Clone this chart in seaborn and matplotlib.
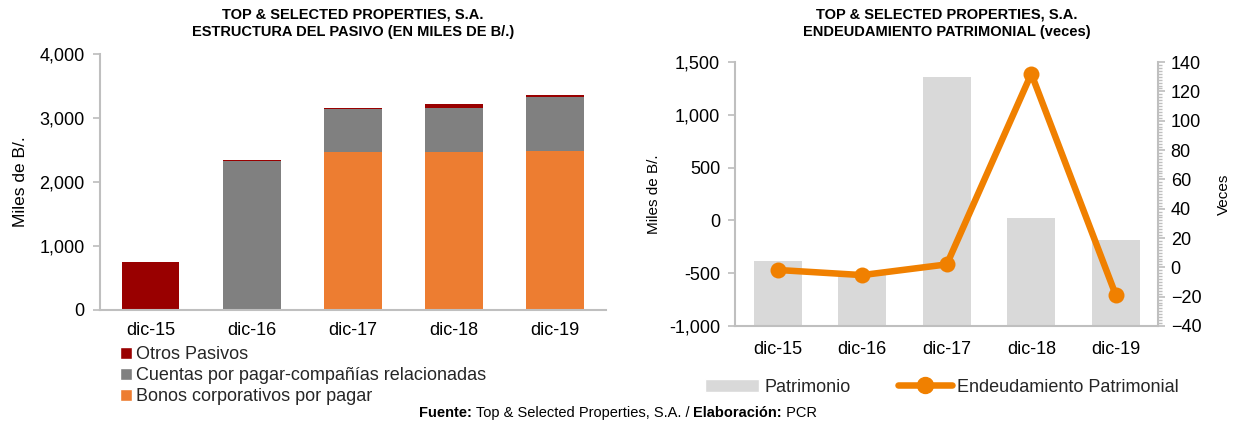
import matplotlib
matplotlib.use("Agg")
import matplotlib.pyplot as plt
import seaborn as sns
import numpy as np
import pandas as pd
from matplotlib.patches import Patch
from matplotlib.lines import Line2D
from matplotlib.ticker import FuncFormatter, MultipleLocator, AutoMinorLocator
from matplotlib.offsetbox import TextArea, HPacker, AnchoredOffsetbox

# ---------------- data ----------------
periods = ["dic-15", "dic-16", "dic-17", "dic-18", "dic-19"]
bonos = [0, 0, 2460, 2470, 2480]
cuentas = [0, 2330, 675, 680, 853]
otros = [750, 15, 20, 73, 27]

patrimonio = [-381, -500, 1357, 23, -183]
endeudamiento = [-1.8, -5.3, 2.0, 132, -19]

# ---------------- style ----------------
sns.set_theme(style="white")
plt.rcParams["font.family"] = ["Liberation Sans", "DejaVu Sans"]

RED = "#990000"
GRAY = "#808080"
ORANGE = "#ED7D31"
LGRAY = "#D9D9D9"
LINE = "#F08000"
SPINE = "#BFBFBF"
TXT = "#000000"
TICK_FS = 13

fig = plt.figure(figsize=(12.36, 4.25), dpi=100)

# ---------------- left chart ----------------
ax1 = fig.add_axes([0.081, 0.271, 0.409, 0.602])
df = pd.DataFrame({"period": periods, "bonos": bonos, "cuentas": cuentas, "otros": otros})
df["s1"] = df["bonos"]
df["s2"] = df["bonos"] + df["cuentas"]
df["s3"] = df["s2"] + df["otros"]
sns.barplot(data=df, x="period", y="s3", color=RED, width=0.57, saturation=1, ax=ax1, linewidth=0)
sns.barplot(data=df, x="period", y="s2", color=GRAY, width=0.57, saturation=1, ax=ax1, linewidth=0)
sns.barplot(data=df, x="period", y="s1", color=ORANGE, width=0.57, saturation=1, ax=ax1, linewidth=0)
ax1.set_xlim(-0.5, 4.5)
ax1.set_ylim(0, 4000)
ax1.yaxis.set_major_locator(MultipleLocator(1000))
ax1.yaxis.set_major_formatter(FuncFormatter(lambda v, p: f"{int(v):,}"))
ax1.set_xlabel("")
ax1.set_ylabel("Miles de B/.", fontsize=12.5, color=TXT, labelpad=8)
for s in ["top", "right"]:
    ax1.spines[s].set_visible(False)
for s in ["left", "bottom"]:
    ax1.spines[s].set_color(SPINE)
    ax1.spines[s].set_linewidth(1.5)
ax1.tick_params(axis="y", left=True, length=5, color=SPINE, labelsize=TICK_FS, labelcolor=TXT, pad=6)
ax1.tick_params(axis="x", bottom=False, labelsize=TICK_FS, labelcolor=TXT, pad=3)
ax1.set_title("TOP & SELECTED PROPERTIES, S.A.\nESTRUCTURA DEL PASIVO (EN MILES DE B/.)",
              fontsize=10.5, fontweight="bold", color=TXT, pad=13, linespacing=1.3)
h1 = [Patch(facecolor=RED, label="Otros Pasivos"),
      Patch(facecolor=GRAY, label="Cuentas por pagar-compañías relacionadas"),
      Patch(facecolor=ORANGE, label="Bonos corporativos por pagar")]
fig.legend(handles=h1, loc="upper left", bbox_to_anchor=(0.097, 0.186), frameon=False,
           fontsize=13, handlelength=0.65, handleheight=0.65, handletextpad=0.25,
           labelspacing=0.22, borderaxespad=0, borderpad=0)

# ---------------- right chart ----------------
ax2 = fig.add_axes([0.595, 0.233, 0.342, 0.621])
YMIN = -1000
dfr = pd.DataFrame({"period": periods, "patrimonio": patrimonio})
dfr["h"] = dfr["patrimonio"] - YMIN
sns.barplot(data=dfr, x="period", y="h", color=LGRAY, width=0.57, saturation=1, ax=ax2,
            linewidth=0, bottom=YMIN)
ax2.set_xlim(-0.5, 4.5)
ax2.set_ylim(YMIN, 1500)
ax2.yaxis.set_major_locator(MultipleLocator(500))
ax2.yaxis.set_major_formatter(FuncFormatter(lambda v, p: f"{int(v):,}"))
ax2.set_xlabel("")
ax2.set_ylabel("Miles de B/.", fontsize=11, color=TXT, labelpad=6)
for s in ["top", "right"]:
    ax2.spines[s].set_visible(False)
for s in ["left", "bottom"]:
    ax2.spines[s].set_color(SPINE)
    ax2.spines[s].set_linewidth(1.5)
ax2.tick_params(axis="y", left=True, length=5, color=SPINE, labelsize=TICK_FS, labelcolor=TXT, pad=6)
ax2.tick_params(axis="x", bottom=False, labelsize=TICK_FS, labelcolor=TXT, pad=5)
ax2.set_title("TOP & SELECTED PROPERTIES, S.A.\nENDEUDAMIENTO PATRIMONIAL (veces)",
              fontsize=10.5, fontweight="bold", color=TXT, pad=19, linespacing=1.3)

ax3 = ax2.twinx()
dfl = pd.DataFrame({"x": np.arange(len(periods)), "v": endeudamiento})
sns.lineplot(data=dfl, x="x", y="v", ax=ax3, color=LINE, linewidth=4.7, marker="o",
             markersize=11.5, markeredgewidth=0, zorder=5)
ax3.set_xlim(-0.5, 4.5)
ax3.set_ylim(-40, 140)
ax3.yaxis.set_major_locator(MultipleLocator(20))
ax3.yaxis.set_minor_locator(AutoMinorLocator(10))
ax3.set_ylabel("Veces", fontsize=11, color=TXT, labelpad=11)
ax3.set_xlabel("")
for s in ["top", "left", "bottom"]:
    ax3.spines[s].set_visible(False)
ax3.spines["right"].set_color(SPINE)
ax3.spines["right"].set_linewidth(1.5)
ax3.tick_params(axis="y", which="major", right=True, length=5, color=SPINE, labelsize=TICK_FS, labelcolor=TXT, pad=4)
ax3.tick_params(axis="y", which="minor", right=True, length=3, color=SPINE)

h2 = [Patch(facecolor=LGRAY, label="Patrimonio"),
      Line2D([0], [0], color=LINE, linewidth=4.7, marker="o", markersize=11.5, label="Endeudamiento Patrimonial")]
fig.legend(handles=h2, loc="center", bbox_to_anchor=(0.762, 0.089), ncol=2, frameon=False,
           fontsize=13, handlelength=3.0, handleheight=0.7, handletextpad=0.3, columnspacing=2.6)

# ---------------- footer ----------------
parts = [("Fuente:", "bold"), (" Top & Selected Properties, S.A. / ", "normal"),
         ("Elaboración:", "bold"), (" PCR", "normal")]
areas = [TextArea(t, textprops=dict(fontsize=10.5, fontweight=w, color=TXT)) for t, w in parts]
box = HPacker(children=areas, align="baseline", pad=0, sep=0)
anch = AnchoredOffsetbox(loc="center", child=box, frameon=False, pad=0, borderpad=0,
                         bbox_to_anchor=(0.5, 0.028), bbox_transform=fig.transFigure)
fig.add_artist(anch)

fig.savefig("out.png", dpi=100)
